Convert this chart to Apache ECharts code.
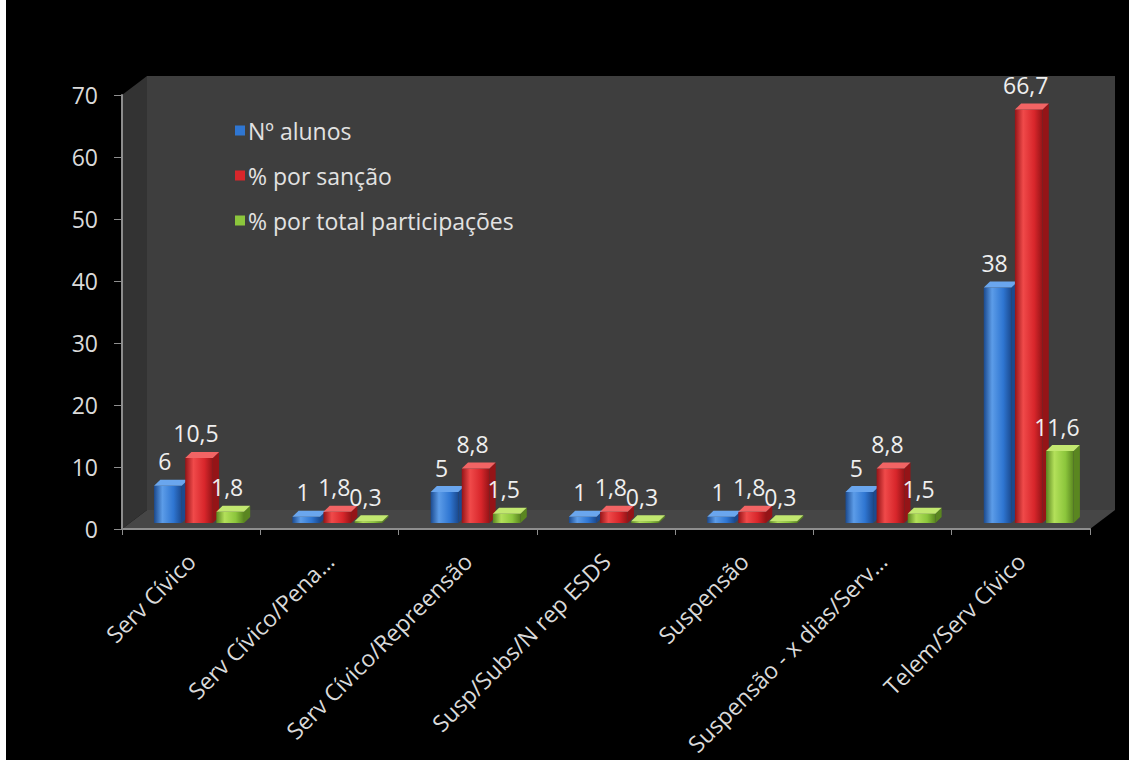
<!DOCTYPE html>
<html>
<head>
<meta charset="utf-8">
<script src="https://cdn.jsdelivr.net/npm/echarts@6/dist/echarts.min.js"></script>
<style>
  html, body { margin: 0; padding: 0; background: #ffffff; }
  #chart { position: absolute; left: 6px; top: 0; width: 1123px; height: 760px; background: #000000; }
</style>
</head>
<body>
<div id="chart"></div>
<script>
// Categories and values
const categories = [
  'Serv Cívico',
  'Serv Cívico/Pena…',
  'Serv Cívico/Repreensão',
  'Susp/Subs/N rep ESDS',
  'Suspensão',
  'Suspensão - x dias/Serv…',
  'Telem/Serv Cívico'
];
const seriesNames = ['Nº alunos', '% por sanção', '% por total participações'];
const numAlunos = [6, 1, 5, 1, 1, 5, 38];
const pctSancao = [10.5, 1.8, 8.8, 1.8, 1.8, 8.8, 66.7];
const pctTotal = [1.8, 0.3, 1.5, 0.3, 0.3, 1.5, 11.6];
const yMin = 0, yMax = 70, yStep = 10;

// Layout of the plot box (front plane) and the 3D depth of the walls
const GRID = { left: 116, right: 39, top: 95, bottom: 231 };
const DEPTH_X = 25, DEPTH_Y = 19;
const W = 1123, H = 760;

const palettes = [
  { base: '#2f76d2', light: '#5c9ce8', dark: '#1b4a8f', top: '#6aa6ee' },
  { base: '#d8262b', light: '#f04a4a', dark: '#951417', top: '#f26464' },
  { base: '#8cc63c', light: '#b3e05a', dark: '#5a8620', top: '#c2e870' }
];
const FONT = '"Open Sans", sans-serif';
const FS = 23;

function fmt(v) { return String(v).replace('.', ','); }

function makeRender(s) {
  const pal = palettes[s];
  return function (params, api) {
    const i = api.value(0), v = api.value(1);
    const base = api.coord([i, 0]);
    const topP = api.coord([i, v]);
    const bw = api.size([1, 0])[0];
    const w = bw * 0.2;
    const dx = bw * 0.045;
    const dy = 6;
    const lift = 6;
    const xl = base[0] - bw * 0.268 + s * bw * 0.225;
    const yb = base[1] - lift;
    const yt = topP[1] - lift;
    const xr = xl + w;
    const front = {
      type: 'rect',
      shape: { x: xl, y: yt, width: w, height: Math.max(yb - yt, 0.5) },
      style: {
        fill: {
          type: 'linear', x: 0, y: 0, x2: 1, y2: 0,
          colorStops: [
            { offset: 0, color: pal.dark },
            { offset: 0.3, color: pal.light },
            { offset: 0.7, color: pal.base },
            { offset: 1, color: pal.dark }
          ]
        }
      }
    };
    const topFace = {
      type: 'polygon',
      shape: { points: [[xl, yt], [xl + dx, yt - dy], [xr + dx, yt - dy], [xr, yt]] },
      style: { fill: pal.top }
    };
    const side = {
      type: 'polygon',
      shape: { points: [[xr, yt], [xr + dx, yt - dy], [xr + dx, yb - dy], [xr, yb]] },
      style: { fill: pal.dark }
    };
    const label = {
      type: 'text',
      style: {
        text: fmt(v),
        x: xl + w / 2 - 3,
        y: yt - dy - 7,
        fill: '#efefef',
        fontSize: FS,
        fontFamily: FONT,
        align: 'center',
        verticalAlign: 'bottom'
      },
      z2: 10
    };
    return { type: 'group', children: [side, front, topFace, label] };
  };
}

const valueSets = [numAlunos, pctSancao, pctTotal];
const series = valueSets.map(function (vals, s) {
  return {
    name: seriesNames[s],
    type: 'custom',
    renderItem: makeRender(s),
    itemStyle: { color: palettes[s].base },
    encode: { x: 0, y: 1 },
    data: vals.map(function (v, i) { return [i, v]; }),
    z: 5
  };
});

// Walls of the 3D plot box: back wall, side wall and floor
const x0 = GRID.left, y0 = GRID.top, x1 = W - GRID.right, y1 = H - GRID.bottom;
const walls = [
  { type: 'polygon', z: -10, silent: true,
    shape: { points: [[x0 + DEPTH_X, y0 - DEPTH_Y], [x1 + DEPTH_X, y0 - DEPTH_Y], [x1 + DEPTH_X, y1 - DEPTH_Y], [x0 + DEPTH_X, y1 - DEPTH_Y]] },
    style: { fill: '#3e3e3e' } },
  { type: 'polygon', z: -10, silent: true,
    shape: { points: [[x0, y0], [x0 + DEPTH_X, y0 - DEPTH_Y], [x0 + DEPTH_X, y1 - DEPTH_Y], [x0, y1]] },
    style: { fill: '#333333' } },
  { type: 'polygon', z: -10, silent: true,
    shape: { points: [[x0, y1], [x0 + DEPTH_X, y1 - DEPTH_Y], [x1 + DEPTH_X, y1 - DEPTH_Y], [x1, y1]] },
    style: { fill: '#464646' } }
];

const chart = echarts.init(document.getElementById('chart'), null, { renderer: 'svg' });
chart.setOption({
  backgroundColor: '#000000',
  animation: false,
  graphic: walls,
  legend: {
    data: seriesNames,
    orient: 'vertical',
    left: 224,
    top: 114,
    icon: 'rect',
    itemWidth: 10,
    itemHeight: 10,
    itemGap: 22,
    textStyle: { color: '#e2e2e2', fontSize: FS, fontFamily: FONT, lineHeight: 23, padding: [0, 0, 0, -2] }
  },
  grid: { left: GRID.left, right: GRID.right, top: GRID.top, bottom: GRID.bottom, containLabel: false },
  xAxis: {
    type: 'category',
    data: categories,
    boundaryGap: true,
    axisLine: { show: true, lineStyle: { color: '#8e8e8e', width: 2 } },
    axisTick: { show: true, length: 6, lineStyle: { color: '#8e8e8e', width: 1 } },
    axisLabel: { interval: 0, rotate: 45, color: '#dadada', fontSize: FS, fontFamily: FONT, margin: 28 },
    splitLine: { show: false }
  },
  yAxis: {
    type: 'value',
    min: yMin,
    max: yMax,
    interval: yStep,
    axisLine: { show: true, lineStyle: { color: '#8e8e8e', width: 2 } },
    axisTick: { show: true, length: 8, lineStyle: { color: '#8e8e8e', width: 1 } },
    axisLabel: { color: '#dadada', fontSize: FS, fontFamily: FONT, margin: 24 },
    splitLine: { show: false }
  },
  series: series
});
</script>
</body>
</html>
